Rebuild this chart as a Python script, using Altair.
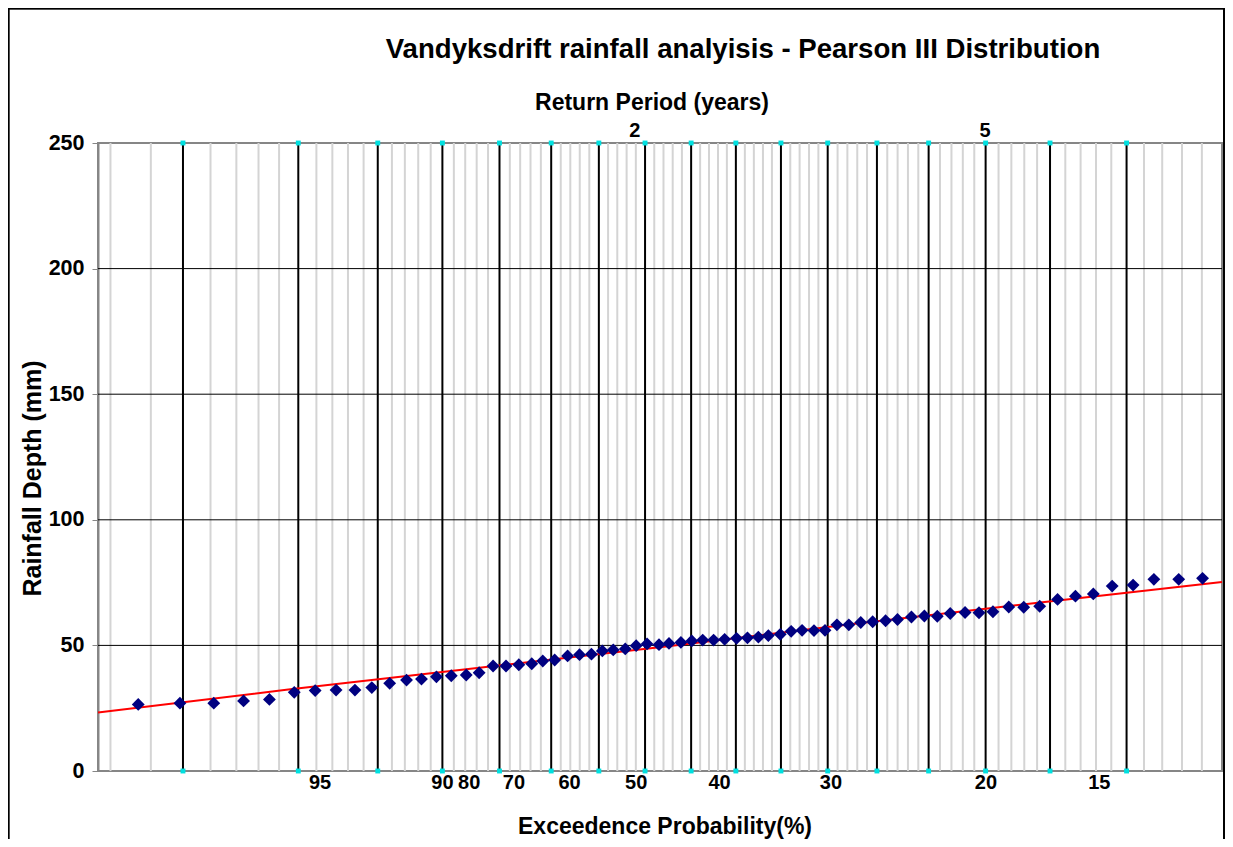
import altair as alt
import pandas as pd

FONT = "Liberation Sans"

# Horizontal axis is the probability-paper plotting position, 0 (left) .. 100 (right)
obs_pos = [3.58, 7.29, 10.30, 12.95, 15.25, 17.46, 19.32, 21.18, 22.86, 24.36,
           25.95, 27.45, 28.78, 30.11, 31.43, 32.76, 33.91, 35.15, 36.30, 37.44,
           38.59, 39.57, 40.63, 41.78, 42.84, 43.90, 44.87, 45.84, 46.91, 47.88,
           48.85, 49.91, 50.80, 51.86, 52.83, 53.80, 54.77, 55.75, 56.81, 57.78,
           58.75, 59.64, 60.70, 61.67, 62.64, 63.70, 64.68, 65.74, 66.80, 67.86,
           68.92, 70.07, 71.13, 72.37, 73.52, 74.67, 75.82, 77.14, 78.38, 79.62,
           81.03, 82.36, 83.78, 85.37, 86.96, 88.55, 90.23, 92.09, 93.94, 96.15,
           98.27]
obs_depth = [26.5, 27.0, 27.0, 27.9, 28.5, 31.3, 32.0, 32.2, 32.2, 33.2,
             34.9, 36.2, 36.6, 37.5, 37.9, 38.2, 39.1, 41.8, 41.8, 42.3,
             42.7, 43.8, 44.2, 45.8, 46.3, 46.5, 47.8, 48.2, 48.6, 49.9,
             50.6, 50.3, 50.8, 51.2, 51.8, 52.1, 52.1, 52.4, 52.8, 53.0,
             53.3, 53.9, 54.4, 55.6, 56.0, 55.9, 56.0, 58.2, 58.2, 59.1,
             59.4, 59.8, 60.3, 61.3, 61.7, 61.6, 62.7, 63.1, 63.0, 63.4,
             65.3, 65.2, 65.6, 68.3, 69.6, 70.5, 73.6, 74.0, 76.3, 76.3,
             76.7]

fit_pos = [0.0, 16.93, 33.73, 50.53, 67.33, 83.24, 100.0]
fit_depth = [23.3, 32.4, 41.0, 49.6, 58.6, 66.8, 75.2]

major_pos = [7.56, 17.82, 24.89, 30.64, 35.72, 40.32, 44.56, 48.67, 52.77,
             56.75, 60.76, 64.92, 69.30, 73.90, 78.97, 84.70, 91.51]
minor_pos = [1.11, 4.70, 10.01, 12.31, 14.28, 16.11, 19.43, 20.85, 22.24, 23.63,
             26.15, 27.30, 28.49, 29.60, 31.66, 32.67, 33.69, 34.70, 36.64, 37.56,
             38.48, 39.40, 41.17, 42.02, 42.86, 43.71, 45.38, 46.20, 47.03, 47.85,
             49.49, 50.31, 51.13, 51.95, 53.57, 54.36, 55.16, 55.95, 57.55, 58.35,
             59.16, 59.96, 61.59, 62.42, 63.26, 64.09, 65.80, 66.67, 67.55, 68.42,
             70.22, 71.14, 72.06, 72.98, 74.91, 75.93, 76.94, 77.96, 80.12, 81.26,
             82.41, 83.55, 86.06, 87.42, 88.79, 90.15, 93.06, 94.68, 96.44, 98.21]

exc_labels = ["95", "90", "80", "70", "60", "50", "40", "30", "20", "15"]
exc_pos = [19.76, 30.64, 33.02, 37.00, 41.95, 47.88, 55.30, 65.21, 79.00, 89.08]
rp_labels = ["2", "5"]
rp_pos = [47.75, 78.91]
y_ticks = [0, 50, 100, 150, 200, 250]
y_grid = [50, 100, 150, 200]

TITLE = "Vandyksdrift rainfall analyisis - Pearson III Distribution"
TOP_TITLE = "Return Period (years)"
BOTTOM_TITLE = "Exceedence Probability(%)"
Y_TITLE = "Rainfall Depth (mm)"

W, H = 1124, 628

xs = alt.Scale(domain=[0, 100], nice=False, zero=False)
ys = alt.Scale(domain=[0, 250], nice=False, zero=True)

YAXIS = alt.Axis(values=y_ticks, grid=False, title=Y_TITLE,
                 titleX=-66, titleY=335, titleAngle=270,
                 titleAlign="center", titleBaseline="middle",
                 titleFont=FONT, titleFontSize=25, titleFontWeight="bold",
                 titleColor="#000000",
                 labelFont=FONT, labelFontSize=21.5, labelFontWeight="bold",
                 labelColor="#000000", labelPadding=8,
                 tickColor="#868686", tickSize=6, tickWidth=1,
                 domainColor="#868686", domainWidth=2)

df_obs = pd.DataFrame({"pos": obs_pos, "depth": obs_depth})
df_fit = pd.DataFrame({"pos": fit_pos, "depth": fit_depth})
df_major = pd.DataFrame({"pos": major_pos})
df_minor = pd.DataFrame({"pos": minor_pos})
df_cyan = pd.DataFrame({"pos": major_pos * 2,
                        "depth": [250] * len(major_pos) + [0] * len(major_pos)})
df_exc = pd.DataFrame({"pos": exc_pos, "lab": exc_labels})
df_rp = pd.DataFrame({"pos": rp_pos, "lab": rp_labels})
df_grid = pd.DataFrame({"depth": y_grid})


def X():
    return alt.X("pos:Q", scale=xs, axis=None)


def Y():
    return alt.Y("depth:Q", scale=ys, axis=YAXIS)


minor = alt.Chart(df_minor).mark_rule(color="#d4d4d4", strokeWidth=2).encode(x=X())
major = alt.Chart(df_major).mark_rule(color="#000000", strokeWidth=2).encode(x=X())
hgrid = alt.Chart(df_grid).mark_rule(color="#000000", strokeWidth=1).encode(y=Y())

fit = alt.Chart(df_fit).mark_line(color="#ff0000", strokeWidth=2).encode(x=X(), y=Y())

obs = alt.Chart(df_obs).mark_point(shape="diamond", filled=True, size=165,
                                   color="#000080", opacity=1).encode(x=X(), y=Y())

cyan = alt.Chart(df_cyan).mark_square(size=24, color="#00e0e0", opacity=1).encode(
    x=X(), y=Y())

exc_text = alt.Chart(df_exc).mark_text(font=FONT, fontSize=20, fontWeight="bold",
                                       color="#000000", baseline="middle",
                                       align="center").encode(
    x=X(), y=alt.value(H + 12), text="lab:N")
rp_text = alt.Chart(df_rp).mark_text(font=FONT, fontSize=20, fontWeight="bold",
                                     color="#000000", baseline="middle",
                                     align="center").encode(
    x=X(), y=alt.value(-12), text="lab:N")


def label(txt, x, y, size):
    return alt.Chart(pd.DataFrame({"t": [txt]})).mark_text(
        font=FONT, fontSize=size, fontWeight="bold", color="#000000",
        align="center", baseline="middle").encode(
        x=alt.value(x), y=alt.value(y), text="t:N")


title = label(TITLE, 645, -93, 27.6)
top_title = label(TOP_TITLE, 554, -40, 23)
bottom_title = label(BOTTOM_TITLE, 567, 684, 23)

frame_left = alt.Chart(df_grid).mark_rule(color="#000000", strokeWidth=1.5).encode(
    x=alt.value(-89.5), y=alt.value(-134.5), y2=alt.value(H + 80))
frame_top = alt.Chart(df_grid).mark_rule(color="#000000", strokeWidth=1.5).encode(
    x=alt.value(-90), x2=alt.value(W + 2.5), y=alt.value(-134.5))
frame_right = alt.Chart(df_grid).mark_rule(color="#000000", strokeWidth=1.5).encode(
    x=alt.value(W + 2), y=alt.value(-134.5), y2=alt.value(H + 80))

chart = alt.layer(
    minor, major, hgrid, fit, obs, cyan, exc_text, rp_text,
    title, top_title, bottom_title, frame_left, frame_top, frame_right
).properties(
    width=W, height=H,
    padding={"left": 90, "top": 135, "right": 3, "bottom": 68},
    autosize=alt.AutoSizeParams(type="none"),
    background="#ffffff",
).configure_view(
    stroke="#868686", strokeWidth=2
)

chart.save("out.html", embed_options={"renderer": "svg", "actions": False})
